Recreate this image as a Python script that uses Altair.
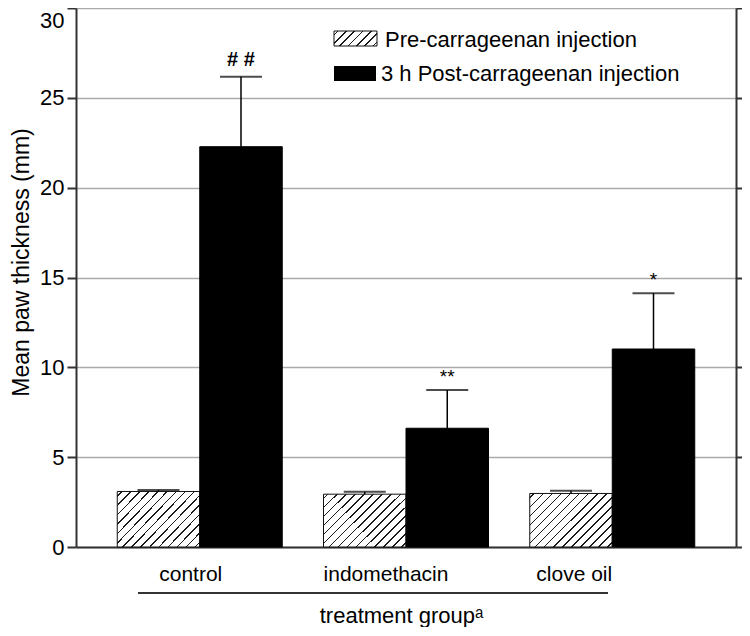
import altair as alt
import pandas as pd

# ---------------- data ----------------
categories = ["control", "indomethacin", "clove oil"]
series_names = ["Pre-carrageenan injection", "3 h Post-carrageenan injection"]
pre_mean = [3.09, 2.94, 2.98]
pre_err = [0.08, 0.13, 0.15]
post_mean = [22.28, 6.61, 11.02]
post_err = [3.89, 2.13, 3.11]
post_marks = ["# #", "**", "*"]
y_ticks = [0, 5, 10, 15, 20, 25, 30]
x_title = "treatment groupᵃ"
y_title = "Mean paw thickness (mm)"

rows = []
for i, c in enumerate(categories):
    rows.append({"group": c, "series": series_names[0], "value": pre_mean[i],
                 "upper": pre_mean[i] + pre_err[i], "mark": ""})
    rows.append({"group": c, "series": series_names[1], "value": post_mean[i],
                 "upper": post_mean[i] + post_err[i], "mark": post_marks[i]})
df = pd.DataFrame(rows)
one = pd.DataFrame({"k": [0]})

FONT = "Liberation Sans"
AX = "#333333"


def hatch(w, h, spacing=6.5, lw=1.1, color="#1a1a1a"):
    r = h / w
    a = (1 + r) / (1 + r * r)
    b = a * r
    L = (w + h) / 2 ** 0.5
    n = max(1, int(round(L / spacing)))
    d = lw / 2 / L
    stops = [{"offset": 0, "color": "white"}]
    for i in range(n):
        t = (i + 0.5) / n
        stops += [{"offset": t - d, "color": "white"},
                  {"offset": t - d, "color": color},
                  {"offset": t + d, "color": color},
                  {"offset": t + d, "color": "white"}]
    stops.append({"offset": 1, "color": "white"})
    return {"gradient": "linear", "x1": 0, "y1": 0, "x2": a, "y2": b, "stops": stops}


yscale = alt.Scale(domain=[0, 30], nice=False)
xenc = alt.X("group:N", sort=categories,
             scale=alt.Scale(paddingInner=0.2, paddingOuter=0.2),
             axis=alt.Axis(title=x_title, labelAngle=0, ticks=False,
                           labelFontSize=21, labelFont=FONT, labelColor="black",
                           labelPadding=16,
                           labelOffset={"condition": [
                               {"test": "datum.value == 'control'", "value": -9},
                               {"test": "datum.value == 'indomethacin'", "value": -20}],
                               "value": -38},
                           titleFontSize=22, titleFont=FONT, titleFontWeight="normal",
                           titleColor="black", titlePadding=21, titleX=325,
                           domainColor=AX, domainWidth=2))
xoff = alt.XOffset("series:N", sort=series_names,
                   scale=alt.Scale(domain=series_names, paddingInner=0, paddingOuter=0))

left_axis = alt.Axis(title=y_title, values=y_ticks, grid=True, gridColor="#aaaaaa",
                     gridWidth=1.3, domainColor=AX, domainWidth=2, tickColor=AX,
                     tickWidth=2, tickSize=9, labelFontSize=22, labelFont=FONT,
                     labelColor="black", labelPadding=3,
                     labelBaseline={"condition": {"test": "datum.value == 30", "value": "top"},
                                    "value": "middle"},
                     labelOffset={"condition": {"test": "datum.value == 30", "value": 2},
                                  "value": 0},
                     titleFontSize=23, titleFont=FONT, titleFontWeight="normal",
                     titleColor="black", titlePadding=6, titleY=254)

base = alt.Chart(df)

pre_bars = base.transform_filter(alt.datum.series == series_names[0]).mark_bar(
    fill=hatch(83, 54), stroke="#111111", strokeWidth=1
).encode(x=xenc, xOffset=xoff, y=alt.Y("value:Q", scale=yscale, axis=left_axis))

post_bars = base.transform_filter(alt.datum.series == series_names[1]).mark_bar(
    fill="black", stroke="black", strokeWidth=1
).encode(x=xenc, xOffset=xoff, y=alt.Y("value:Q", scale=yscale, axis=None))

err_rule = base.mark_rule(color="black", strokeWidth=1.5).encode(
    x=xenc, xOffset=xoff,
    y=alt.Y("value:Q", scale=yscale, axis=None), y2="upper:Q")

err_cap = base.mark_tick(color="black", size=42, thickness=2).encode(
    x=xenc, xOffset=xoff, y=alt.Y("upper:Q", scale=yscale, axis=None))

hash_text = base.transform_filter(alt.datum.mark == "# #").mark_text(
    font=FONT, fontSize=20, fontWeight="bold", baseline="alphabetic", dy=-11, color="black"
).encode(x=xenc, xOffset=xoff, y=alt.Y("upper:Q", scale=yscale, axis=None), text="mark:N")

star_text = base.transform_filter(
    (alt.datum.mark == "**") | (alt.datum.mark == "*")
).mark_text(
    font=FONT, fontSize=19, baseline="alphabetic", dy=-7, color="black"
).encode(x=xenc, xOffset=xoff, y=alt.Y("upper:Q", scale=yscale, axis=None), text="mark:N")

right_axis = base.mark_rule(opacity=0).encode(
    y=alt.Y("value:Q", scale=yscale,
            axis=alt.Axis(orient="right", values=y_ticks, labels=False, grid=False,
                          title=None, domainColor=AX, domainWidth=2, tickColor=AX,
                          tickWidth=2, tickSize=6)))

# legend and group underline
leg1 = alt.Chart(one).mark_rect(fill=hatch(43, 15, spacing=6), stroke="#111111",
                                strokeWidth=1).encode(
    x=alt.value(258), x2=alt.value(301), y=alt.value(23), y2=alt.value(38))
leg2 = alt.Chart(one).mark_rect(fill="black").encode(
    x=alt.value(258), x2=alt.value(300), y=alt.value(58), y2=alt.value(73))
legt1 = alt.Chart(one).mark_text(font=FONT, fontSize=22, align="left",
                                 baseline="alphabetic", color="black").encode(
    x=alt.value(309), y=alt.value(39), text=alt.value(series_names[0]))
legt2 = alt.Chart(one).mark_text(font=FONT, fontSize=22, align="left",
                                 baseline="alphabetic", color="black").encode(
    x=alt.value(305), y=alt.value(73), text=alt.value(series_names[1]))
underline = alt.Chart(one).mark_rule(color=AX, strokeWidth=2).encode(
    x=alt.value(62), x2=alt.value(532), y=alt.value(585))

chart = alt.layer(
    pre_bars, post_bars, err_rule, err_cap, hash_text, star_text, right_axis,
    leg1, leg2, legt1, legt2, underline
).resolve_axis(y="independent").properties(
    width=660, height=539,
    autosize=alt.AutoSizeParams(type="none"),
    padding={"left": 68, "top": 0, "right": 6, "bottom": 80},
).configure_view(stroke=AX, strokeWidth=2).configure(font=FONT)

chart.save("out.html", embed_options={"renderer": "svg", "actions": False})
